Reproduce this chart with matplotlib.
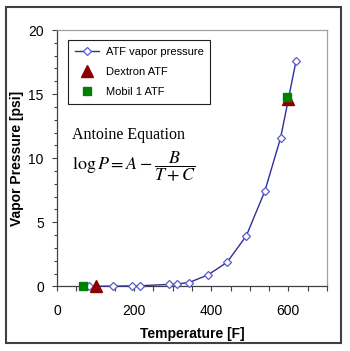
import matplotlib
matplotlib.use("Agg")
import matplotlib.pyplot as plt
from matplotlib.patches import Rectangle
from matplotlib.ticker import MultipleLocator

# ATF vapor pressure curve (Antoine fit), temperature in F, pressure in psi
temp_f = [82, 146, 194, 215, 291, 312, 342, 391, 441, 491, 539, 580, 620]
vap_psi = [0.01, 0.02, 0.04, 0.05, 0.16, 0.2, 0.3, 0.89, 1.88, 3.95, 7.43, 11.6, 17.6]

# measured points
dextron_t = [100, 600]
dextron_p = [0.0, 14.6]
mobil_t = [68, 597]
mobil_p = [0.0, 14.8]

plt.rcParams['font.family'] = ['Liberation Sans', 'DejaVu Sans']
plt.rcParams['mathtext.fontset'] = 'stix'

fig = plt.figure(figsize=(3.5, 3.51), dpi=100)
fig.patch.set_facecolor('white')
ax = fig.add_axes([0.163, 0.184, 0.771, 0.7305])

ax.plot(temp_f, vap_psi, color='#2e2e9e', lw=1.0, marker='D', ms=4.5,
        mfc='white', mec='#5a5ad0', mew=0.9, label='ATF vapor pressure',
        zorder=3, clip_on=False)
ax.plot(dextron_t, dextron_p, ls='none', marker='^', ms=8, color='#8b0000',
        label='Dextron ATF', zorder=4, clip_on=False)
ax.plot(mobil_t, mobil_p, ls='none', marker='s', ms=5.5, color='#008000',
        label='Mobil 1 ATF', zorder=5, clip_on=False)

ax.set_xlim(0, 700)
ax.set_ylim(0, 20)
ax.xaxis.set_major_locator(MultipleLocator(200))
ax.xaxis.set_minor_locator(MultipleLocator(50))
ax.yaxis.set_major_locator(MultipleLocator(5))
ax.yaxis.set_minor_locator(MultipleLocator(1))
ax.tick_params(axis='both', which='major', direction='out', length=3.5,
               width=0.8, color='#404040', labelsize=10, pad=6)
ax.tick_params(axis='x', which='major', pad=9)
ax.tick_params(axis='x', which='minor', direction='out', length=3.5,
               width=0.8, color='#404040')
ax.tick_params(axis='y', which='minor', direction='out', length=2,
               width=0.8, color='#404040')
ax.set_xticks([0, 200, 400, 600])

for side in ['left', 'bottom']:
    ax.spines[side].set_color('#404040')
    ax.spines[side].set_linewidth(0.9)
for side in ['top', 'right']:
    ax.spines[side].set_color('#a0a0a0')
    ax.spines[side].set_linewidth(0.9)

ax.set_xlabel('Temperature [F]', fontsize=10, fontweight='bold', labelpad=7)
ax.set_ylabel('Vapor Pressure [psi]', fontsize=10, fontweight='bold', labelpad=3)

leg = ax.legend(loc='upper left', bbox_to_anchor=(0.04, 0.96), fontsize=8,
                fancybox=False, framealpha=1, edgecolor='#202020',
                borderaxespad=0, handlelength=2.2, labelspacing=0.9,
                borderpad=0.6, handletextpad=0.6)
leg.get_frame().set_linewidth(0.8)

ax.text(0.055, 0.59, 'Antoine Equation', transform=ax.transAxes,
        family=['Liberation Serif', 'DejaVu Serif'], fontsize=11.5, va='center')
ax.text(0.055, 0.47, r'$\log P = A - \dfrac{B}{T + C}$', transform=ax.transAxes,
        fontsize=13, va='center')

fig.patches.append(Rectangle((6 / 350, 8 / 351), 335 / 350, 336 / 351,
                             transform=fig.transFigure, fill=False,
                             edgecolor='#404040', lw=1.5))

fig.savefig('out.png', dpi=100)
